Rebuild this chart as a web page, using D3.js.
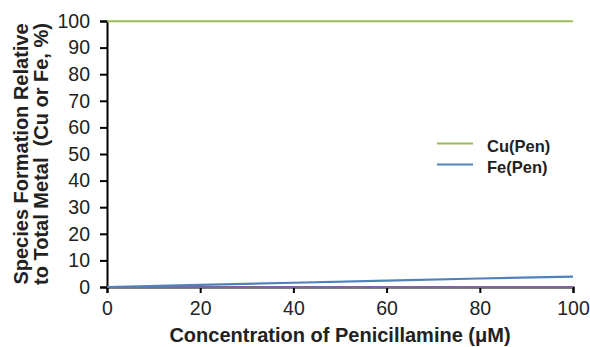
<!DOCTYPE html>
<html>
<head>
<meta charset="utf-8">
<script src="https://cdn.jsdelivr.net/npm/d3@7"></script>
<style>
  html, body { margin: 0; padding: 0; background: #fff; }
  svg { display: block; }
  text { font-family: "Liberation Sans", Arial, sans-serif; fill: #222; }
</style>
</head>
<body>
<svg id="chart" width="590" height="347"></svg>
<script>
// Penicillamine concentration (µM)
const concentration = [0, 20, 40, 60, 80, 100];
// Species formation relative to total metal (%)
const cuPen = [99.9, 99.9, 99.9, 99.9, 99.9, 99.9];
const fePen = [0, 0.8, 1.6, 2.4, 3.2, 3.9];
const other = [0, 0, 0, 0, 0, 0];

const seriesNames = ["Cu(Pen)", "Fe(Pen)"];
const xTicks = [0, 20, 40, 60, 80, 100];
const yTicks = [0, 10, 20, 30, 40, 50, 60, 70, 80, 90, 100];

const svg = d3.select("#chart");
const margin = { left: 107, right: 17, top: 21, bottom: 60 };
const W = 590, H = 347;

const x = d3.scaleLinear().domain([0, 100]).range([margin.left, W - margin.right]);
const y = d3.scaleLinear().domain([0, 100]).range([H - margin.bottom, margin.top]);

// axes (drawn first so the series sit on top of them)
const xAxis = d3.axisBottom(x).tickValues(xTicks).tickSize(6).tickPadding(8);
const yAxis = d3.axisLeft(y).tickValues(yTicks).tickSize(7).tickPadding(10);

const gx = svg.append("g").attr("transform", `translate(0,${y(0)})`).call(xAxis);
const gy = svg.append("g").attr("transform", `translate(${x(0)},0)`).call(yAxis);

[gx, gy].forEach(g => {
  g.select(".domain").attr("stroke", "#000").attr("stroke-width", 2);
  g.selectAll(".tick line").attr("stroke", "#000").attr("stroke-width", 2);
  g.selectAll(".tick text").attr("font-size", 19.5).attr("fill", "#222")
    .attr("font-family", "Liberation Sans, Arial, sans-serif");
});

const line = d3.line().x((d, i) => x(concentration[i])).y(d => y(d));

const series = [
  { values: other, color: "#8064A2" },
  { values: fePen, color: "#4F81BD" },
  { values: cuPen, color: "#9BBB59" }
];

series.forEach(s => {
  svg.append("path")
    .datum(s.values)
    .attr("d", line)
    .attr("fill", "none")
    .attr("stroke", s.color)
    .attr("stroke-width", 2.2);
});

// axis titles
svg.append("text")
  .attr("x", (x(0) + x(100)) / 2)
  .attr("y", 342)
  .attr("text-anchor", "middle")
  .attr("font-size", 20)
  .attr("font-weight", "bold")
  .text("Concentration of Penicillamine (μM)");

const yTitle = svg.append("g")
  .attr("transform", `translate(0,${(y(0) + y(100)) / 2}) rotate(-90)`);
yTitle.append("text")
  .attr("x", 0).attr("y", 28)
  .attr("text-anchor", "middle")
  .attr("font-size", 20).attr("font-weight", "bold")
  .text("Species Formation Relative");
yTitle.append("text")
  .attr("x", 0).attr("y", 48)
  .attr("text-anchor", "middle")
  .attr("font-size", 20).attr("font-weight", "bold")
  .attr("xml:space", "preserve")
  .text("to Total Metal  (Cu or Fe, %)");

// legend
const legend = svg.append("g");
[series[2], series[1]].forEach((s, i) => {
  const ly = 143.5 + i * 21;
  legend.append("line")
    .attr("x1", 437).attr("x2", 473)
    .attr("y1", ly).attr("y2", ly)
    .attr("stroke", s.color).attr("stroke-width", 2.2);
  legend.append("text")
    .attr("x", 487).attr("y", ly + 8)
    .attr("font-size", 16.5).attr("font-weight", "bold")
    .text(seriesNames[i]);
});
</script>
</body>
</html>
